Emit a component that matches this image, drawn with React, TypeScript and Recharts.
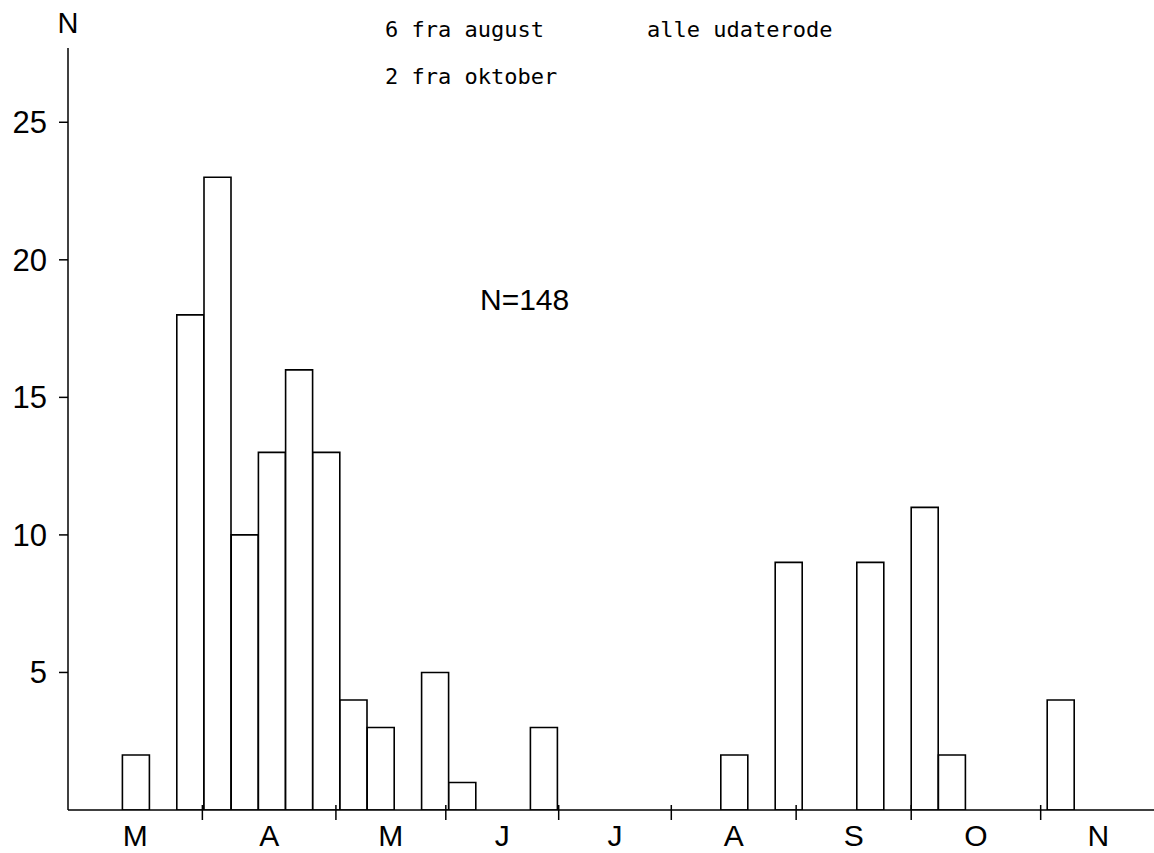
import { BarChart, Bar, XAxis, YAxis } from 'recharts';

// counts per week, 40 week slots starting at the y axis (March .. November)
const weekCounts = [
  0, 0, 2, 0, 18, 23, 10, 13, 16, 13,
  4, 3, 0, 5, 1, 0, 0, 3, 0, 0,
  0, 0, 0, 0, 2, 0, 9, 0, 0, 9,
  0, 11, 2, 0, 0, 0, 4, 0, 0, 0,
];
const monthLabels = ['M', 'A', 'M', 'J', 'J', 'A', 'S', 'O', 'N'];
// month boundaries in week-slot units
const monthBounds = [0, 4.94, 9.85, 13.89, 18.04, 22.18, 26.77, 31.0, 35.76, 40];
const yTicks = [5, 10, 15, 20, 25];
const noteLines = ['6 fra august', '2 fra oktober'];
const noteRight = 'alle udaterode';
const totalLabel = 'N=148';

// slot = centre of each week slot, used by the month axis
const data = weekCounts.map((n, i) => ({ week: String(i + 1), slot: i + 0.5, n }));
const monthMids = monthLabels.map((_, i) => (monthBounds[i] + monthBounds[i + 1]) / 2);
const innerBounds = monthBounds.slice(1, -1);

const sans = '"Liberation Sans", Arial, sans-serif';
const mono = '"DejaVu Sans Mono", "Liberation Mono", monospace';

function MonthTick(props: any) {
  const { x, y, payload } = props;
  const idx = monthMids.indexOf(payload.value);
  if (idx >= 0) {
    return (
      <text x={x} y={y + 36} textAnchor="middle" fontSize={30} fontFamily={sans} fill="#000">
        {monthLabels[idx]}
      </text>
    );
  }
  return <line x1={x} y1={y - 5} x2={x} y2={y + 10} stroke="#000" strokeWidth={1.5} />;
}

export default function App() {
  return (
    <div style={{ position: 'absolute', left: 0, top: 0, width: 1154, height: 853, overflow: 'hidden', background: '#fff' }}>
      <BarChart
        width={1160}
        height={853}
        data={data}
        margin={{ top: 48, right: 4, bottom: 0, left: 0 }}
        barCategoryGap={0}
        barGap={0}
      >
        <XAxis xAxisId="w" dataKey="week" hide />
        <XAxis
          xAxisId="m"
          dataKey="slot"
          type="number"
          domain={[0, 40]}
          ticks={[...innerBounds, ...monthMids]}
          interval={0}
          height={43}
          tickSize={0}
          tickMargin={0}
          tickLine={false}
          axisLine={{ stroke: '#000', strokeWidth: 1.5 }}
          tick={MonthTick}
          allowDataOverflow
        />
        <YAxis
          width={68}
          domain={[0, 27.7]}
          ticks={yTicks}
          interval={0}
          tickSize={9}
          tickMargin={12}
          axisLine={{ stroke: '#000', strokeWidth: 1.5 }}
          tickLine={{ stroke: '#000', strokeWidth: 1.5 }}
          tick={{ fontSize: 31, fill: '#000', fontFamily: sans }}
          allowDataOverflow
        />
        <Bar
          xAxisId="w"
          dataKey="n"
          fill="#fff"
          stroke="#000"
          strokeWidth={1.6}
          isAnimationActive={false}
        />
      </BarChart>
      <svg width={1154} height={853} style={{ position: 'absolute', left: 0, top: 0, pointerEvents: 'none' }}>
        <text x={68} y={33} textAnchor="middle" fontSize={29} fontFamily={sans} fill="#000">N</text>
        <text x={385} y={37} fontSize={22} fontFamily={mono} fill="#000">{noteLines[0]}</text>
        <text x={385} y={84} fontSize={22} fontFamily={mono} fill="#000">{noteLines[1]}</text>
        <text x={647} y={37} fontSize={22} fontFamily={mono} fill="#000">{noteRight}</text>
        <text x={480} y={310} fontSize={30} fontFamily={sans} fill="#000">{totalLabel}</text>
      </svg>
    </div>
  );
}
